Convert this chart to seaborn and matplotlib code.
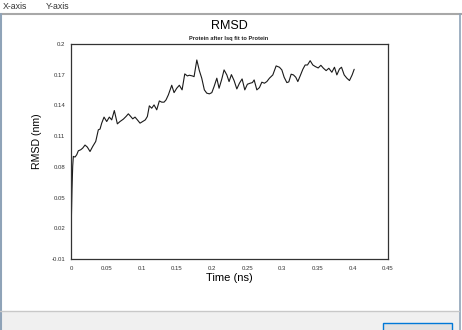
import matplotlib
matplotlib.use("Agg")
import matplotlib.pyplot as plt
import matplotlib.patches as mpatches
from matplotlib.lines import Line2D
import seaborn as sns
import pandas as pd

# ---- data ----
time_ns = [0.0, 0.0014, 0.0024, 0.0033, 0.0057, 0.0081, 0.0104, 0.0138, 0.0166, 0.0199,
           0.0232, 0.027, 0.0308, 0.0351, 0.0388, 0.0412, 0.0436, 0.0469, 0.0507, 0.0544,
           0.0578, 0.0615, 0.0658, 0.0696, 0.0743, 0.0781, 0.0814, 0.0848, 0.0876, 0.0909,
           0.0942, 0.098, 0.1018, 0.1055, 0.1084, 0.1112, 0.1146, 0.1179, 0.1217, 0.1254,
           0.1288, 0.1321, 0.1349, 0.1382, 0.143, 0.1463, 0.1501, 0.1538, 0.1577, 0.1615,
           0.1652, 0.168, 0.1723, 0.1747, 0.1786, 0.1822, 0.1856, 0.1893, 0.1927, 0.1964,
           0.1999, 0.2031, 0.207, 0.2102, 0.214, 0.2173, 0.2212, 0.2244, 0.2277, 0.2315,
           0.2354, 0.2391, 0.2429, 0.2467, 0.2504, 0.2543, 0.2575, 0.26, 0.2638, 0.2675,
           0.2709, 0.2746, 0.278, 0.2817, 0.2865, 0.2912, 0.2959, 0.2993, 0.3026, 0.3064,
           0.3092, 0.3125, 0.3158, 0.3191, 0.322, 0.3253, 0.3291, 0.3324, 0.3357, 0.3395,
           0.3433, 0.347, 0.3509, 0.3547, 0.3584, 0.3622, 0.366, 0.3703, 0.374, 0.3774,
           0.3811, 0.384, 0.3878, 0.3916, 0.3953, 0.3991, 0.402]

rmsd_nm = [0.0122, 0.0577, 0.0804, 0.0902, 0.0896, 0.0918, 0.0957, 0.0967, 0.0983, 0.1013,
           0.0993, 0.095, 0.0999, 0.1048, 0.1162, 0.1169, 0.1227, 0.1286, 0.1243, 0.1286,
           0.1259, 0.135, 0.122, 0.1243, 0.1266, 0.1292, 0.1318, 0.1292, 0.1269, 0.1286,
           0.1259, 0.1227, 0.1243, 0.1259, 0.1292, 0.1396, 0.1373, 0.1405, 0.1357, 0.1444,
           0.1432, 0.1432, 0.1454, 0.1503, 0.1597, 0.1525, 0.1568, 0.1597, 0.1552, 0.1708,
           0.1688, 0.1695, 0.1688, 0.1681, 0.1844, 0.174, 0.1666, 0.1552, 0.152, 0.1513,
           0.1525, 0.1584, 0.1666, 0.1568, 0.1656, 0.1747, 0.1698, 0.1633, 0.1701, 0.1643,
           0.1561, 0.1617, 0.1659, 0.1552, 0.1607, 0.1617, 0.1623, 0.1649, 0.1552, 0.1574,
           0.1627, 0.1617, 0.1633, 0.1666, 0.1698, 0.1786, 0.1773, 0.1747, 0.1675, 0.1623,
           0.163, 0.1705, 0.1698, 0.1675, 0.1633, 0.1688, 0.1753, 0.1795, 0.1795, 0.1837,
           0.1795, 0.1779, 0.1766, 0.1792, 0.1763, 0.174, 0.1763, 0.1724, 0.1773, 0.1698,
           0.1756, 0.1773, 0.1698, 0.1666, 0.1643, 0.1698, 0.1753]

x_ticks = [0, 0.05, 0.1, 0.15, 0.2, 0.25, 0.3, 0.35, 0.4, 0.45]
x_tick_labels = ["0", "0.05", "0.1", "0.15", "0.2", "0.25", "0.3", "0.35", "0.4", "0.45"]
y_ticks = [-0.01, 0.02, 0.05, 0.08, 0.11, 0.14, 0.17, 0.2]
y_tick_labels = ["-0.01", "0.02", "0.05", "0.08", "0.11", "0.14", "0.17", "0.2"]

title = "RMSD"
subtitle = "Protein after lsq fit to Protein"
x_label = "Time (ns)"
y_label = "RMSD (nm)"
menu_items = ["X-axis", "Y-axis"]

# ---- style ----
sns.set_style("white")
plt.rcParams["font.family"] = ["Liberation Sans", "DejaVu Sans"]

W, H = 462, 330
fig = plt.figure(figsize=(W / 100, H / 100), dpi=100)
fig.patch.set_facecolor("white")

def fx(px):
    return px / W

def fy(py):
    return 1 - py / H

# axes box: left 71, right 388, top 44, bottom 259 (pixels)
ax = fig.add_axes([fx(71), fy(259), (388 - 71) / W, (259 - 44) / H])

df = pd.DataFrame({"Time (ns)": time_ns, "RMSD (nm)": rmsd_nm})
sns.lineplot(data=df, x="Time (ns)", y="RMSD (nm)", ax=ax, color="#1a1a1a",
             linewidth=0.8, estimator=None, sort=False)

ax.set_xlim(0, 0.45)
ax.set_ylim(-0.01, 0.2)
ax.set_xticks(x_ticks)
ax.set_xticklabels(x_tick_labels)
ax.set_yticks(y_ticks)
ax.set_yticklabels(y_tick_labels)
ax.tick_params(axis="both", length=0, labelsize=4.3, labelcolor="#333333")
ax.tick_params(axis="x", pad=5)
ax.tick_params(axis="y", pad=4)
for s in ax.spines.values():
    s.set_visible(True)
    s.set_color("#333333")
    s.set_linewidth(0.9)
ax.set_xlabel("")
ax.set_ylabel("")

# titles and axis labels
fig.text(fx(229), fy(26), title, ha="center", va="center", fontsize=9, color="black")
fig.text(fx(229), fy(38.5), subtitle, ha="center", va="center", fontsize=4.1,
         color="#222222", fontweight="bold")
fig.text(fx(229), fy(278), x_label, ha="center", va="center", fontsize=8, color="black")
fig.text(fx(37), fy(141), y_label, ha="center", va="center", rotation=90,
         fontsize=7.6, color="black")

# window chrome from the screenshot
fig.text(fx(3), fy(6.5), menu_items[0], ha="left", va="center", fontsize=6.3, color="#333333")
fig.text(fx(46), fy(6.5), menu_items[1], ha="left", va="center", fontsize=6.3, color="#333333")
fig.add_artist(Line2D([0, 1], [fy(13.5), fy(13.5)], color="#a8a8a8", linewidth=1.5))
fig.add_artist(Line2D([fx(0.8), fx(0.8)], [fy(14), fy(330)], color="#8fa3b8", linewidth=1.5))
fig.add_artist(Line2D([fx(459.5), fx(459.5)], [fy(14), fy(330)], color="#8fa3b8", linewidth=1.2))
fig.add_artist(mpatches.Rectangle((fx(1.5), 0), fx(457.5), fy(311), transform=fig.transFigure,
                                  facecolor="#f0f0f0", edgecolor="none"))
fig.add_artist(Line2D([fx(0), fx(459)], [fy(311), fy(311)], color="#c8c8c8", linewidth=1.0))
fig.add_artist(mpatches.Rectangle((fx(382.5), fy(336)), fx(451.5) - fx(382.5), fy(323) - fy(336),
                                  transform=fig.transFigure, facecolor="#e1e1e1",
                                  edgecolor="#0078d7", linewidth=1.0))

fig.savefig("out.png", dpi=100)
